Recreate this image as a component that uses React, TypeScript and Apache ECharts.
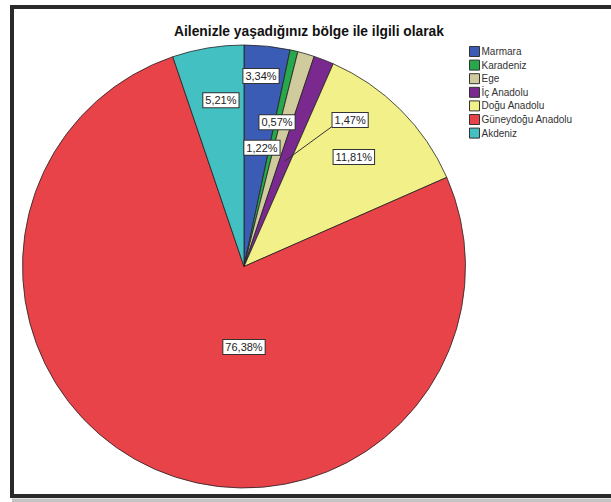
import React, { useEffect, useRef } from "react";
import * as echarts from "echarts";

const titleText = "Ailenizle yaşadığınız bölge ile ilgili olarak";
const regions = [
  "Marmara",
  "Karadeniz",
  "Ege",
  "İç Anadolu",
  "Doğu Anadolu",
  "Güneydoğu Anadolu",
  "Akdeniz",
];
const percents = [3.34, 0.57, 1.22, 1.47, 11.81, 76.38, 5.21];
const colors = ["#3b5cb4", "#27a84b", "#cfcb9c", "#7a2a8e", "#f2f088", "#e9434a", "#42c0c2"];

// label anchor: [fraction of radius, angle clockwise from 12 o'clock in degrees]
const labelAnchors: [number, number][] = [
  [0.864, 5.1],
  [0.668, 12.9],
  [0.542, 8.6],
  [0.817, 35.9],
  [0.7, 45.1],
  [0.363, 180],
  [0.758, -7.9],
];
const leaderIndex = 3;
const leaderFrac = 0.51;

const CX = 244;
const CY = 266.5;
const R = 221.5;
const LABEL_FONT = "11px Arial, 'Liberation Sans'";

const fmt = (v: number) => v.toFixed(2).replace(".", ",") + "%";

function measure(text: string) {
  const c = document.createElement("canvas").getContext("2d");
  if (!c) return text.length * 6;
  c.font = LABEL_FONT;
  return c.measureText(text).width;
}

export default function App() {
  const ref = useRef<HTMLDivElement>(null);
  useEffect(() => {
    if (!ref.current) return;
    const chart = echarts.init(ref.current, null, { renderer: "svg" });
    const total = percents.reduce((a, b) => a + b, 0);
    const cum: number[] = [];
    let acc = 0;
    percents.forEach((p) => {
      cum.push(acc);
      acc += p;
    });
    const anchorPoint = (i: number) => {
      const [f, a] = labelAnchors[i];
      const rad = (a * Math.PI) / 180;
      return [CX + f * R * Math.sin(rad), CY - f * R * Math.cos(rad)];
    };
    // leader line for the small slice
    const mid = ((cum[leaderIndex] + percents[leaderIndex] / 2) / total) * 2 * Math.PI;
    const sx = CX + leaderFrac * R * Math.sin(mid);
    const sy = CY - leaderFrac * R * Math.cos(mid);
    const [lx, ly] = anchorPoint(leaderIndex);
    const lw = measure(fmt(percents[leaderIndex])) + 4 + 2;
    const lh = 14;
    const bx = lx - lw / 2;
    const by = ly + lh / 2;

    const data = regions.map((name, i) => ({ name, value: percents[i], itemStyle: { color: colors[i] } }));
    chart.setOption({
      animation: false,
      backgroundColor: "#fff",
      title: {
        text: titleText,
        left: 304,
        textAlign: "center",
        top: 19,
        textStyle: { fontFamily: "Arial, Liberation Sans", fontSize: 13.8, fontWeight: "bold", color: "#111" },
      },
      legend: {
        orient: "vertical",
        left: 469,
        top: 46,
        padding: 0,
        icon: "rect",
        itemWidth: 10,
        itemHeight: 10,
        itemGap: 2.6,
        data: regions,
        selectedMode: false,
        itemStyle: { borderColor: "#333", borderWidth: 1 },
        textStyle: { fontFamily: "Arial, Liberation Sans", fontSize: 10, color: "#333", padding: [0, 0, 0, -3] },
      },
      graphic: [
        {
          type: "rect",
          shape: { x: 12, y: 7, width: 700, height: 489 },
          style: { fill: "none", stroke: "#2a2a2a", lineWidth: 4 },
          silent: true,
        },
        {
          type: "rect",
          shape: { x: 12, y: 498.5, width: 700, height: 4 },
          style: { fill: "#c4c4c4" },
          silent: true,
        },
        {
          type: "line",
          shape: { x1: sx, y1: sy, x2: bx, y2: by },
          style: { stroke: "#333", lineWidth: 1 },
          z: 100,
          silent: true,
        },
      ],
      series: [
        {
          type: "pie",
          center: [CX, CY],
          radius: [0, R],
          startAngle: 90,
          clockwise: true,
          avoidLabelOverlap: false,
          silent: true,
          emphasis: { disabled: true },
          itemStyle: { borderColor: "#222", borderWidth: 0.8 },
          label: {
            show: true,
            position: "inside",
            formatter: (p: any) => fmt(p.value),
            backgroundColor: "#fff",
            borderColor: "#333",
            borderWidth: 1,
            padding: [1, 2],
            fontFamily: "Arial, Liberation Sans",
            fontSize: 11,
            lineHeight: 12,
            color: "#222",
          },
          labelLine: { show: false },
          labelLayout: (params: any) => {
            const [x, y] = anchorPoint(params.dataIndex);
            return { x, y, align: "center", verticalAlign: "middle" };
          },
          data,
        },
      ],
    });
    return () => chart.dispose();
  }, []);
  return (
    <div
      ref={ref}
      style={{ position: "fixed", left: 0, top: 0, width: 611, height: 502 }}
    />
  );
}
